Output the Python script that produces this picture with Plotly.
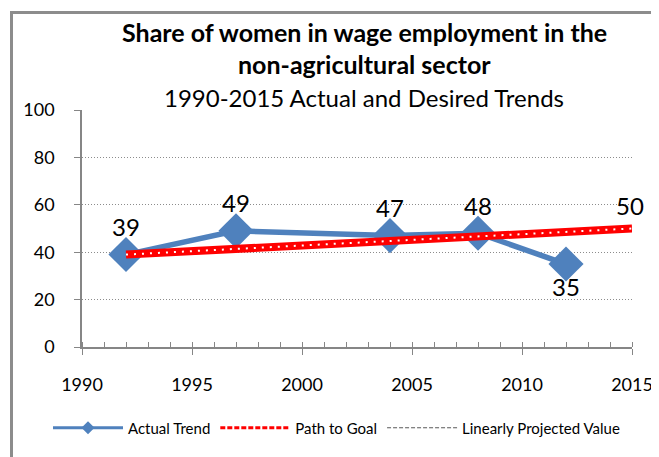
import plotly.graph_objects as go

# Data
actual_years = [1992, 1997, 2004, 2008, 2012]
actual_values = [39, 49, 47, 48, 35]
goal_years = [1992, 2015]
goal_values = [39, 50]
projected_years = []
projected_values = []
x_ticks = [1990, 1995, 2000, 2005, 2010, 2015]
y_ticks = [0, 20, 40, 60, 80, 100]

# page has an 8px body margin; figure is sized so the page fills the window
W, H = 651, 449
L, R, T, B = 74, 27, 102, 110
pw, ph = W - L - R, H - T - B

# helpers take reference-image pixel coordinates
def px_x(p):
    return (p - 8 - L) / pw

def px_y(p):
    return (H - B - (p - 8)) / ph

FONT = "Lato, 'Liberation Sans', sans-serif"
BLUE = "#4F81BD"
RED = "#FF0000"
GRAY = "#868686"

fig = go.Figure()

fig.add_trace(go.Scatter(
    x=actual_years, y=actual_values, mode="lines+markers",
    line=dict(color=BLUE, width=5.5),
    marker=dict(symbol="diamond", size=27, color=BLUE),
    showlegend=False, hoverinfo="skip"))

fig.add_trace(go.Scatter(
    x=goal_years, y=goal_values, mode="lines",
    line=dict(color=RED, width=8), showlegend=False, hoverinfo="skip"))
fig.add_trace(go.Scatter(
    x=goal_years, y=goal_values, mode="lines",
    line=dict(color="white", width=2, dash="2px,6px"), showlegend=False, hoverinfo="skip"))

fig.add_trace(go.Scatter(
    x=projected_years, y=projected_values, mode="lines",
    line=dict(color=GRAY, width=1, dash="dash"), showlegend=False))

# Legend entries
fig.add_trace(go.Scatter(x=[None], y=[None], mode="lines+markers", name="Actual Trend",
                         line=dict(color=BLUE, width=3),
                         marker=dict(symbol="diamond", size=10, color=BLUE)))
fig.add_trace(go.Scatter(x=[None], y=[None], mode="lines", name="Path to Goal",
                         line=dict(color=RED, width=3, dash="5px,2px")))
fig.add_trace(go.Scatter(x=[None], y=[None], mode="lines", name="Linearly Projected Value",
                         line=dict(color="#595959", width=1, dash="4px,2px")))

annotations = []
LABEL_FONT = dict(size=24, color="black", family=FONT)
for x, y in zip(actual_years, actual_values):
    below = y == min(actual_values)
    annotations.append(dict(x=x, y=y, text=str(y), showarrow=False,
                            yshift=-22 if below else 28, font=LABEL_FONT))
annotations.append(dict(x=goal_years[-1], y=goal_values[-1], text=str(goal_values[-1]),
                        showarrow=False, yshift=23, xshift=-2, font=LABEL_FONT))

cx = px_x(364)
annotations.append(dict(xref="paper", yref="paper", x=cx, y=px_y(32), yanchor="middle",
                        text="<b>Share of women in wage employment in the</b>", showarrow=False,
                        font=dict(size=25, color="black", family=FONT)))
annotations.append(dict(xref="paper", yref="paper", x=cx, y=px_y(64), yanchor="middle",
                        text="<b>non-agricultural sector</b>", showarrow=False,
                        font=dict(size=25, color="black", family=FONT)))
annotations.append(dict(xref="paper", yref="paper", x=cx, y=px_y(98), yanchor="middle",
                        text="1990-2015 Actual and Desired Trends", showarrow=False,
                        font=dict(size=24, color="black", family=FONT)))

shapes = [dict(type="rect", xref="paper", yref="paper",
               x0=px_x(11.5), x1=px_x(720), y0=px_y(520), y1=px_y(12.5),
               line=dict(color="#8C8C8C", width=3), fillcolor="rgba(0,0,0,0)", layer="below")]

fig.update_layout(
    width=W, height=H,
    margin=dict(l=L, r=R, t=T, b=B, autoexpand=False),
    paper_bgcolor="white", plot_bgcolor="white",
    font=dict(family=FONT, color="black"),
    annotations=annotations, shapes=shapes,
    legend=dict(orientation="h", x=px_x(48), y=px_y(428), xanchor="left", yanchor="middle",
                font=dict(size=15, color="black", family=FONT),
                itemwidth=70, tracegroupgap=0, bgcolor="rgba(0,0,0,0)"),
    xaxis=dict(range=[1990, 2015], tickvals=x_ticks, ticks="outside", ticklen=6,
               tickcolor=GRAY, showline=True, linecolor=GRAY, linewidth=1.5,
               showgrid=False, zeroline=False, ticklabelstandoff=15,
               tickfont=dict(size=18, color="black", family=FONT),
               minor=dict(dtick=1, ticks="inside", ticklen=5, tickcolor=GRAY, showgrid=False)),
    yaxis=dict(range=[0, 100], tickvals=y_ticks, ticks="outside", ticklen=6,
               tickcolor=GRAY, showline=True, linecolor=GRAY, linewidth=1.5,
               showgrid=True, gridcolor="#8C8C8C", griddash="1px,2px", gridwidth=1,
               zeroline=False, ticklabelstandoff=16,
               tickfont=dict(size=18, color="black", family=FONT)),
)

fig.write_html("out.html")
